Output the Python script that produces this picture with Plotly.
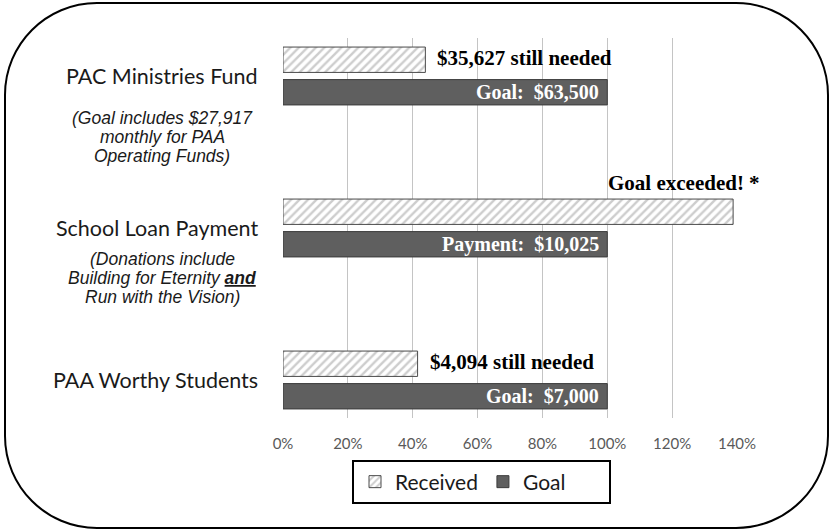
import plotly.graph_objects as go

# ---------------- data ----------------
categories = ["PAC Ministries Fund", "School Loan Payment", "PAA Worthy Students"]
received_pct = [0.439, 1.388, 0.415]
goal_pct = [1.0, 1.0, 1.0]
received_labels = ["$35,627 still needed", "", "$4,094 still needed"]
goal_labels = ["Goal:\u00a0 $63,500", "Payment:\u00a0 $10,025", "Goal:\u00a0 $7,000"]
exceeded_label = "Goal exceeded! *"
notes = [
    ["(Goal includes $27,917", "monthly for PAA", "Operating Funds)"],
    ["(Donations include",
     "Building for Eternity <b><span style='text-decoration:underline'>and</span></b>",
     "Run with the Vision)"],
    [],
]
x_ticks = [0, 0.2, 0.4, 0.6, 0.8, 1.0, 1.2, 1.4]

# ---------------- layout constants ----------------
W, H = 831, 531
L, R, T, B = 283, 94, 38, 113
PW, PH = W - L - R, H - T - B


def px2x(px):
    return (px - L) / PW


def py2y(py):
    return (H - B - py) / PH


ypos = [2 * i for i in range(len(categories))]

fig = go.Figure()
fig.add_trace(go.Bar(
    name="Received", orientation="h", y=ypos, x=received_pct,
    marker=dict(color="white", line=dict(color="#4a4a4a", width=1),
                pattern=dict(shape="/", fgcolor="#9c9c9c", bgcolor="white",
                             size=6, solidity=0.4)),
    hoverinfo="skip",
))
fig.add_trace(go.Bar(
    name="Goal", orientation="h", y=ypos, x=goal_pct,
    marker=dict(color="#5f5f5f", line=dict(color="#3c3c3c", width=1)),
    hoverinfo="skip",
))

ann = []
serif = "Liberation Serif, Times New Roman, serif"
sans = "Liberation Sans, Arial, sans-serif"
for i, yp in enumerate(ypos):
    ann.append(dict(x=px2x(260), xref="paper", y=yp, yref="y", text=categories[i],
                    xanchor="right", yanchor="middle", showarrow=False,
                    font=dict(family="Lato", size=21.5, color="#1a1a1a")))
    if received_labels[i]:
        ann.append(dict(x=received_pct[i], xref="x", y=yp, yref="y",
                        text="<b>%s</b>" % received_labels[i],
                        xanchor="left", yanchor="middle", xshift=10, yshift=18,
                        showarrow=False, font=dict(family=serif, size=21, color="black")))
    ann.append(dict(x=goal_pct[i], xref="x", y=yp, yref="y",
                    text="<b>%s</b>" % goal_labels[i],
                    xanchor="right", yanchor="middle", xshift=-6, yshift=-16,
                    showarrow=False, font=dict(family=serif, size=20, color="white")))

ann.append(dict(x=received_pct[1], xref="x", y=ypos[1], yref="y",
                text="<b>%s</b>" % exceeded_label, xanchor="right", yanchor="middle",
                xshift=29, yshift=45, showarrow=False,
                font=dict(family=serif, size=21, color="black")))

note_first = [42, 31, 0]
for i, lines in enumerate(notes):
    for k, line in enumerate(lines):
        ann.append(dict(x=px2x(162), xref="paper", y=ypos[i], yref="y",
                        text="<i>%s</i>" % line, xanchor="center", yanchor="middle",
                        yshift=-(note_first[i] + 19 * k), showarrow=False,
                        font=dict(family=sans, size=17.5, color="#1a1a1a")))

# rounded frame
fx0, fx1, fy0, fy1, r = 5, 828, 3, 528, 92
k = 0.5523 * r


def P(px, py):
    return "%.5f,%.5f" % (px2x(px), py2y(py))


frame = ("M " + P(fx0 + r, fy0) + " L " + P(fx1 - r, fy0) +
         " C " + P(fx1 - r + k, fy0) + " " + P(fx1, fy0 + r - k) + " " + P(fx1, fy0 + r) +
         " L " + P(fx1, fy1 - r) +
         " C " + P(fx1, fy1 - r + k) + " " + P(fx1 - r + k, fy1) + " " + P(fx1 - r, fy1) +
         " L " + P(fx0 + r, fy1) +
         " C " + P(fx0 + r - k, fy1) + " " + P(fx0, fy1 - r + k) + " " + P(fx0, fy1 - r) +
         " L " + P(fx0, fy0 + r) +
         " C " + P(fx0, fy0 + r - k) + " " + P(fx0 + r - k, fy0) + " " + P(fx0 + r, fy0) + " Z")

shapes = [
    dict(type="path", xref="paper", yref="paper", path=frame,
         line=dict(color="black", width=2), fillcolor="rgba(0,0,0,0)", layer="above"),
    dict(type="rect", xref="paper", yref="paper", x0=px2x(353), x1=px2x(610),
         y0=py2y(461), y1=py2y(503), line=dict(color="black", width=2),
         fillcolor="rgba(0,0,0,0)"),
]

fig.update_layout(
    width=W, height=H, margin=dict(l=L, r=R, t=T, b=B),
    paper_bgcolor="white", plot_bgcolor="white",
    barmode="group", bargap=0.572, bargroupgap=0.22,
    showlegend=True,
    legend=dict(orientation="h", x=px2x(355), xanchor="left", y=py2y(482), yanchor="middle",
                font=dict(family="Lato", size=21, color="#1a1a1a"),
                bgcolor="rgba(0,0,0,0)", borderwidth=0, traceorder="normal"),
    xaxis=dict(range=[0, 1.4], tickvals=x_ticks, tickformat=".0%", showgrid=True,
               gridcolor="#c4c4c4", gridwidth=1, zeroline=False, showline=False,
               ticks="outside", ticklen=12, tickcolor="rgba(0,0,0,0)",
               tickfont=dict(family="Lato", size=15, color="#595959")),
    yaxis=dict(range=[4.5, -0.5], showticklabels=False, showgrid=False, zeroline=False,
               showline=False),
    annotations=ann, shapes=shapes,
)

fig.write_html("out.html", config={"displayModeBar": False},
               post_script="document.body.style.margin='0';document.body.style.overflow='hidden';")
